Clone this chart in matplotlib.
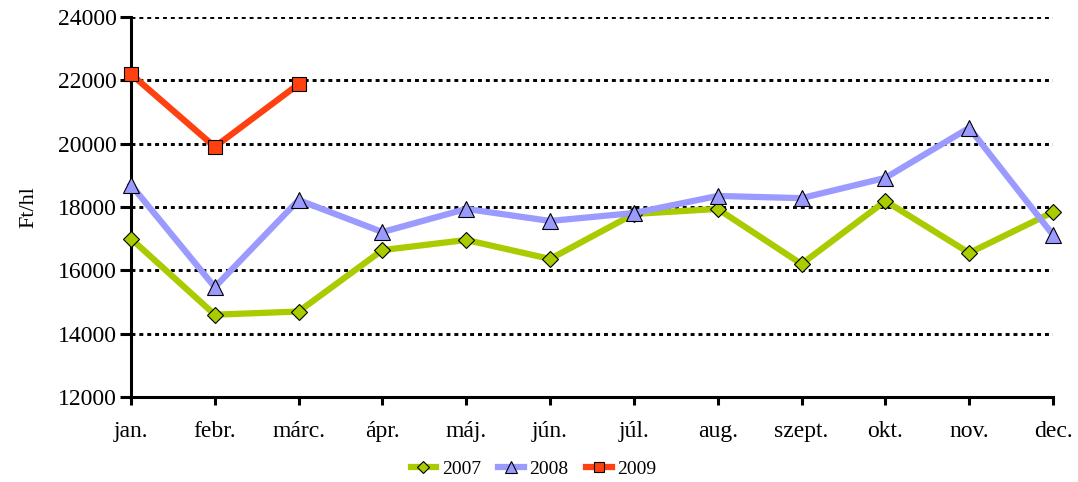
import matplotlib
matplotlib.use("Agg")
import matplotlib.pyplot as plt

months = ["jan.", "febr.", "márc.", "ápr.", "máj.", "jún.", "júl.", "aug.", "szept.", "okt.", "nov.", "dec."]
v2007 = [17000, 14600, 14700, 16640, 16960, 16360, 17780, 17940, 16200, 18190, 16550, 17840]
v2008 = [18700, 15470, 18220, 17210, 17940, 17560, 17810, 18350, 18280, 18920, 20500, 17120]
v2009 = [22200, 19900, 21880]
yticks = [12000, 14000, 16000, 18000, 20000, 22000, 24000]

plt.rcParams['font.family'] = ['Liberation Serif', 'DejaVu Serif']

fig = plt.figure(figsize=(10.78, 4.82), dpi=100)
ax = fig.add_axes([0.1215, 0.1763, 0.9768 - 0.1215, 0.9647 - 0.1763])

x = list(range(len(months)))
ax.plot(x, v2007, color='#A8CC00', lw=4.5, marker='D', ms=8.5, mfc='#A8CC00', mec='black', mew=0.8,
        label='2007', clip_on=False, zorder=3)
ax.plot(x, v2008, color='#9B9BFF', lw=4.5, marker='^', ms=12, mfc='#9B9BFF', mec='black', mew=0.8,
        label='2008', clip_on=False, zorder=3)
ax.plot(x[:len(v2009)], v2009, color='#FF4010', lw=4.5, marker='s', ms=10.5, mfc='#FF4010', mec='black', mew=0.8,
        label='2009', clip_on=False, zorder=4)

ax.set_xlim(0, len(months) - 1)
ax.set_ylim(12000, 24000)
ax.set_yticks(yticks)
ax.set_xticks(x)
ax.set_xticklabels(months)
ax.yaxis.grid(True, color='black', linestyle=(0, (1.35, 1.35)), lw=2.1)
ax.set_axisbelow(True)
for s in ['top', 'right']:
    ax.spines[s].set_visible(False)
for s in ['left', 'bottom']:
    ax.spines[s].set_linewidth(2.2)
ax.tick_params(axis='both', direction='out', width=2.2, labelsize=17, colors='black')
ax.tick_params(axis='y', length=8, pad=2)
ax.tick_params(axis='x', length=6, pad=11)
ax.set_ylabel('Ft/hl', fontsize=16, labelpad=14)

handles, labels = ax.get_legend_handles_labels()
fig.legend(handles, labels, loc='center', bbox_to_anchor=(0.495, 0.026), ncol=3, frameon=False, fontsize=14,
           handlelength=1.3, handletextpad=0.3, columnspacing=0.9, markerscale=0.75, borderpad=0)
fig.savefig('out.png', dpi=100)
